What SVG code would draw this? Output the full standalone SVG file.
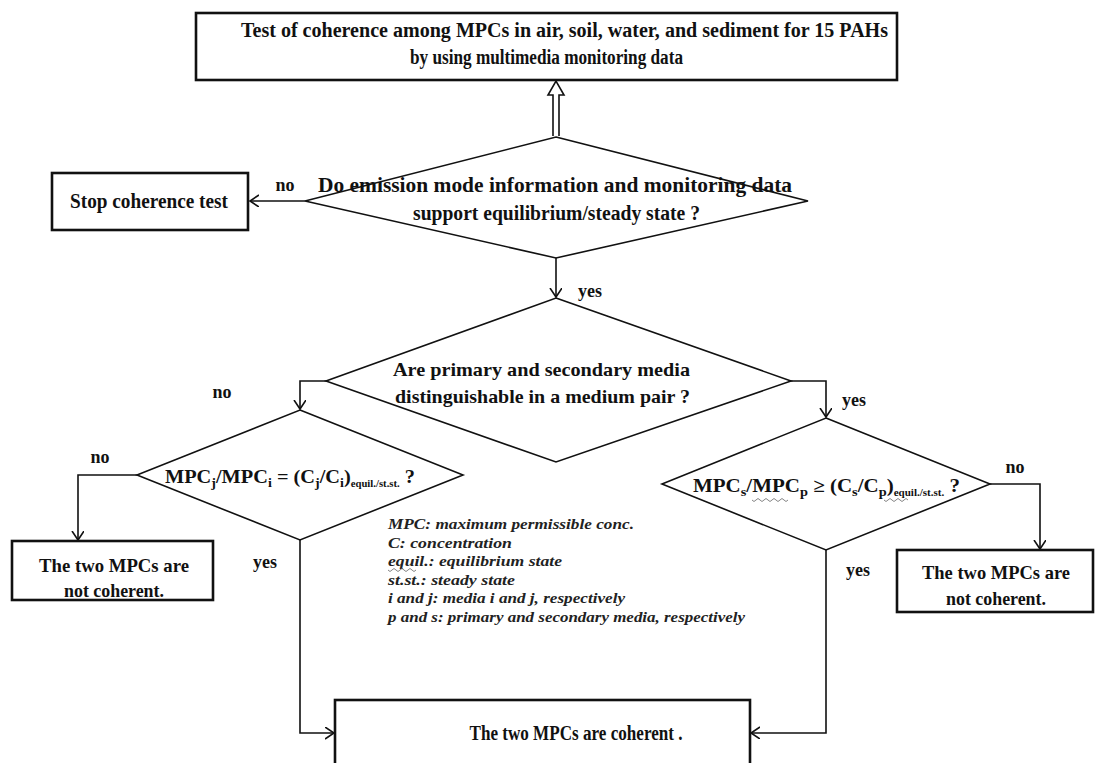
<svg xmlns="http://www.w3.org/2000/svg" width="1105" height="763" viewBox="0 0 1105 763">
<style>
.b{font-family:"Liberation Serif","DejaVu Serif",serif;font-weight:bold;fill:#111}
.lg{font-family:"Liberation Serif","DejaVu Serif",serif;font-style:italic;font-weight:bold;font-size:15px;fill:#222}
.box{fill:#fff;stroke:#111;stroke-width:2.6}
.dia{fill:#fff;stroke:#111;stroke-width:1.6}
.ln{fill:none;stroke:#111;stroke-width:1.6}
.sq{fill:none;stroke:#777;stroke-width:0.9}
</style>
<defs>
<marker id="ar" markerUnits="userSpaceOnUse" markerWidth="12" markerHeight="14" refX="9" refY="6" orient="auto">
<path d="M0,0 L9,6 L0,12" fill="none" stroke="#111" stroke-width="1.6"/>
</marker>
</defs>
<rect width="1105" height="763" fill="#fff"/>

<g id="connectors">
<path d="M553,136 V95 H548 L556,81 L564,95 H559 V136" fill="#fff" stroke="#111" stroke-width="1.6"/>
<path class="ln" d="M305,201 H250" marker-end="url(#ar)"/>
<path class="ln" d="M556,258 V297" marker-end="url(#ar)"/>
<path class="ln" d="M326,381 H300 V409" marker-end="url(#ar)"/>
<path class="ln" d="M791,381 H826 V417" marker-end="url(#ar)"/>
<path class="ln" d="M137,475 H78 V540" marker-end="url(#ar)"/>
<path class="ln" d="M990,484 H1040 V549" marker-end="url(#ar)"/>
<path class="ln" d="M300,540 V733 H334" marker-end="url(#ar)"/>
<path class="ln" d="M826,550 V733 H751" marker-end="url(#ar)"/>
<text class="b" font-size="18" x="285" y="191" text-anchor="middle">no</text>
<text class="b" font-size="18" x="578" y="297">yes</text>
<text class="b" font-size="18" x="222" y="398" text-anchor="middle">no</text>
<text class="b" font-size="18" x="842" y="406">yes</text>
<text class="b" font-size="18" x="100" y="463" text-anchor="middle">no</text>
<text class="b" font-size="18" x="1015" y="473" text-anchor="middle">no</text>
<text class="b" font-size="18" x="265" y="568" text-anchor="middle">yes</text>
<text class="b" font-size="18" x="858" y="576" text-anchor="middle">yes</text>
</g>

<g id="start">
<rect class="box" x="196" y="13" width="701" height="67"/>
<text class="b" font-size="20" x="564.5" y="37" text-anchor="middle" textLength="647" lengthAdjust="spacingAndGlyphs">Test of coherence among MPCs in air, soil, water, and sediment for 15 PAHs</text>
<text class="b" font-size="20" x="546.5" y="64" text-anchor="middle" textLength="273" lengthAdjust="spacingAndGlyphs">by using multimedia monitoring data</text>
</g>

<g id="q1">
<polygon class="dia" points="556,137 808,201 556,258 305,201"/>
<text class="b" font-size="20" x="555" y="192" text-anchor="middle" textLength="474" lengthAdjust="spacingAndGlyphs">Do emission mode information and monitoring data</text>
<text class="b" font-size="20" x="556.5" y="220" text-anchor="middle" textLength="287" lengthAdjust="spacingAndGlyphs">support equilibrium/steady state ?</text>
</g>

<g id="stop">
<rect class="box" x="52" y="173" width="196" height="57"/>
<text class="b" font-size="20" x="149" y="208" text-anchor="middle" textLength="158" lengthAdjust="spacingAndGlyphs">Stop coherence test</text>
</g>

<g id="q2">
<polygon class="dia" points="556,298 791,381 556,462 326,381"/>
<text class="b" font-size="19" x="541.5" y="376" text-anchor="middle" textLength="297" lengthAdjust="spacingAndGlyphs">Are primary and secondary media</text>
<text class="b" font-size="19" x="542.5" y="403" text-anchor="middle" textLength="295" lengthAdjust="spacingAndGlyphs">distinguishable in a medium pair ?</text>
</g>

<g id="q3">
<polygon class="dia" points="300,410 463,475 300,540 137,475"/>
<text class="b" font-size="19" x="290" y="483" text-anchor="middle" textLength="250" lengthAdjust="spacingAndGlyphs">MPC<tspan dy="4" font-size="13">j</tspan><tspan dy="-4">/MPC</tspan><tspan dy="4" font-size="13">i</tspan><tspan dy="-4"> = (C</tspan><tspan dy="4" font-size="13">j</tspan><tspan dy="-4">/C</tspan><tspan dy="4" font-size="13">i</tspan><tspan dy="-4">)</tspan><tspan dy="4" font-size="10">equil./st.st.</tspan><tspan dy="-4"> ?</tspan></text>
</g>

<g id="q4">
<polygon class="dia" points="826,418 990,484 826,550 662,484"/>
<text class="b" font-size="19" x="826.5" y="492" text-anchor="middle" textLength="267" lengthAdjust="spacingAndGlyphs">MPC<tspan dy="4" font-size="13">s</tspan><tspan dy="-4">/MPC</tspan><tspan dy="4" font-size="13">p</tspan><tspan dy="-4"> ≥ (C</tspan><tspan dy="4" font-size="13">s</tspan><tspan dy="-4">/C</tspan><tspan dy="4" font-size="13">p</tspan><tspan dy="-4">)</tspan><tspan dy="4" font-size="10">equil./st.st.</tspan><tspan dy="-4">  ?</tspan></text>
<path class="sq" d="M752,500 q2,3 4,0 t4,0 t4,0 t4,0 t4,0 t4,0 t4,0 t4,0 t4,0"/>
<path class="sq" d="M884,500 q2,3 4,0 t4,0 t4,0 t4,0 t4,0 t4,0"/>
</g>

<g id="notcoh1">
<rect class="box" x="12" y="541" width="201" height="59"/>
<text class="b" font-size="19" x="114" y="572" text-anchor="middle" textLength="150" lengthAdjust="spacingAndGlyphs">The two MPCs are</text>
<text class="b" font-size="19" x="114" y="597" text-anchor="middle" textLength="100" lengthAdjust="spacingAndGlyphs">not coherent.</text>
</g>

<g id="notcoh2">
<rect class="box" x="897" y="550" width="196" height="62"/>
<text class="b" font-size="19" x="996" y="579" text-anchor="middle" textLength="148" lengthAdjust="spacingAndGlyphs">The two MPCs are</text>
<text class="b" font-size="19" x="996" y="605" text-anchor="middle" textLength="100" lengthAdjust="spacingAndGlyphs">not coherent.</text>
</g>

<g id="coherent">
<rect class="box" x="335" y="700" width="415" height="80"/>
<text class="b" font-size="20" x="576" y="740" text-anchor="middle" textLength="213" lengthAdjust="spacingAndGlyphs">The two MPCs are coherent .</text>
</g>

<g id="legend">
<text class="lg" x="388" y="529" textLength="246" lengthAdjust="spacingAndGlyphs">MPC: maximum permissible  conc.</text>
<text class="lg" x="388" y="548" textLength="124" lengthAdjust="spacingAndGlyphs">C: concentration</text>
<text class="lg" x="388" y="566" textLength="174" lengthAdjust="spacingAndGlyphs">equil.: equilibrium state</text>
<text class="lg" x="388" y="585" textLength="127" lengthAdjust="spacingAndGlyphs">st.st.: steady state</text>
<text class="lg" x="388" y="603" textLength="237" lengthAdjust="spacingAndGlyphs">i and j: media  i and j, respectively</text>
<text class="lg" x="388" y="622" textLength="357" lengthAdjust="spacingAndGlyphs">p and s: primary and secondary  media,  respectively</text>
<path class="sq" d="M388,570 q2,3 4,0 t4,0 t4,0 t4,0 t4,0 t4,0 t4,0"/>
</g>
</svg>
